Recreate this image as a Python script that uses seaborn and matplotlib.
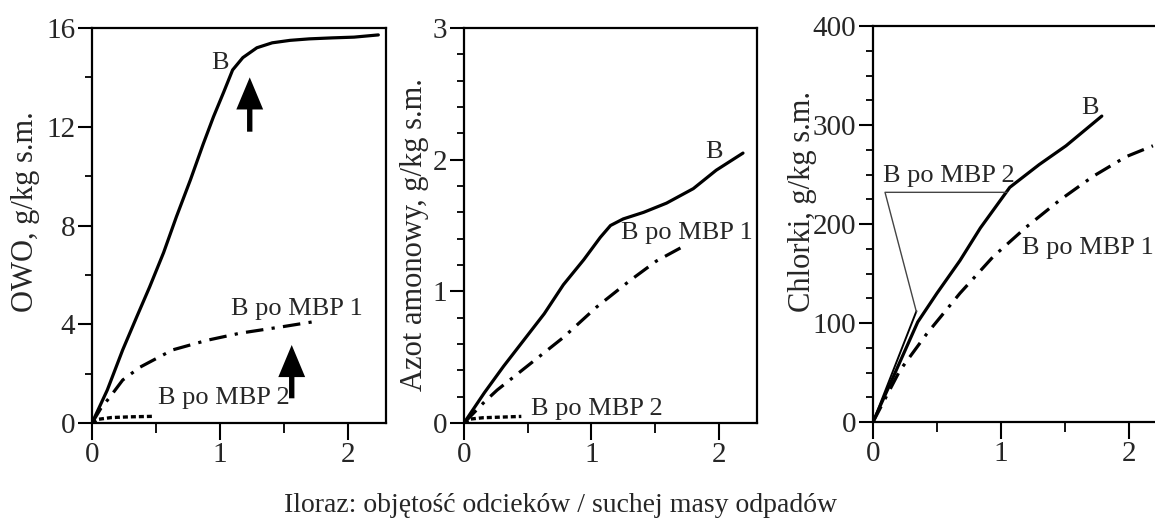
import numpy as np
import pandas as pd
import matplotlib
matplotlib.use("Agg")
import matplotlib.pyplot as plt
from matplotlib.ticker import MultipleLocator, FixedLocator, FixedFormatter
import seaborn as sns

# ---------------- data ----------------
# Panel 1: OWO
owo_b_x = [0, 0.12, 0.24, 0.35, 0.45, 0.56, 0.66, 0.77, 0.87, 0.95, 1.03, 1.1, 1.18, 1.29, 1.41, 1.55, 1.7, 1.88, 2.05, 2.24]
owo_b_y = [0, 1.34, 2.96, 4.3, 5.5, 6.9, 8.35, 9.85, 11.3, 12.4, 13.4, 14.3, 14.8, 15.2, 15.4, 15.5, 15.56, 15.6, 15.63, 15.72]
owo_m1_x = [0, 0.07, 0.14, 0.24, 0.375, 0.63, 0.9, 1.16, 1.49, 1.73]
owo_m1_y = [0, 0.6, 1.05, 1.74, 2.26, 2.96, 3.35, 3.64, 3.9, 4.1]
owo_m2_x = [0, 0.05, 0.15, 0.3, 0.48]
owo_m2_y = [0, 0.15, 0.22, 0.25, 0.27]

# Panel 2: Azot amonowy
az_b_x = [0, 0.16, 0.31, 0.47, 0.63, 0.78, 0.94, 1.07, 1.15, 1.25, 1.41, 1.59, 1.8, 1.98, 2.19]
az_b_y = [0, 0.23, 0.43, 0.63, 0.83, 1.05, 1.24, 1.41, 1.5, 1.55, 1.6, 1.67, 1.78, 1.92, 2.05]
az_m1_x = [0, 0.16, 0.26, 0.52, 0.78, 1.04, 1.3, 1.51, 1.7]
az_m1_y = [0, 0.16, 0.25, 0.45, 0.65, 0.88, 1.08, 1.23, 1.33]
az_m2_x = [0, 0.05, 0.15, 0.45]
az_m2_y = [0, 0.03, 0.04, 0.05]

# Panel 3: Chlorki
cl_b_x = [0, 0.16, 0.35, 0.5, 0.68, 0.84, 1.07, 1.3, 1.51, 1.79]
cl_b_y = [0, 46, 101, 130, 163, 196, 237, 260, 279, 309]
cl_m1_x = [0, 0.21, 0.42, 0.68, 0.94, 1.2, 1.46, 1.72, 1.98, 2.19]
cl_m1_y = [0, 52, 89, 130, 167, 197, 224, 248, 268, 279]
cl_m2_x = [0, 0.34]
cl_m2_y = [0, 112]

# tick labels
owo_yticks = [0, 4, 8, 12, 16]
az_yticks = [0, 1, 2, 3]
cl_yticks = [0, 100, 200, 300, 400]
x_ticks = [0, 1, 2]

ylabels = ["OWO, g/kg s.m.", "Azot amonowy, g/kg s.m.", "Chlorki, g/kg s.m."]
xlabel = "Iloraz: objętość odcieków / suchej masy odpadów"

# annotations
owo_labels = [("B", 1.0, 14.6), ("B po MBP 1", 1.6, 4.6), ("B po MBP 2", 1.03, 1.0)]
az_labels = [("B", 1.96, 2.06), ("B po MBP 1", 1.75, 1.44), ("B po MBP 2", 1.04, 0.11)]
cl_labels = [("B", 1.70, 317), ("B po MBP 2", 0.59, 248), ("B po MBP 1", 1.68, 176)]
owo_arrows = [(1.234, 11.8, 14.0), (1.5625, 1.0, 3.16)]
cl_leader_x = [1.05, 0.094, 0.34]
cl_leader_y = [232, 232, 111]

# ---------------- style ----------------
sns.set_style("ticks")
plt.rcParams['font.family'] = ['Liberation Serif', 'DejaVu Serif']

W, H = 1155, 526
fig = plt.figure(figsize=(W / 100, H / 100), dpi=100)
fig.patch.set_facecolor("white")

def px_ax(left, right, top, bottom):
    return fig.add_axes([left / W, 1 - bottom / H, (right - left) / W, (bottom - top) / H])

ax1 = px_ax(92, 386, 28, 423)
ax2 = px_ax(464, 757, 28, 423)
ax3 = px_ax(873, 1167, 26, 422)

TICK_FS = 21
LBL_FS = 19
YL_FS = 22

solid = dict(color="black", linewidth=2.3, linestyle="-", solid_joinstyle="round", solid_capstyle="round")
dashdot = dict(color="black", linewidth=2.3, linestyle=(0, (5.5, 2.6, 1.0, 2.6)))
dashed = dict(color="black", linewidth=2.4, linestyle=(0, (1.5, 0.9)))

def line(ax, x, y, style):
    df = pd.DataFrame({"x": x, "y": y})
    sns.lineplot(data=df, x="x", y="y", ax=ax, sort=False, estimator=None, **style)

def setup(ax, ylim, yticks, yminor, ylabel, lab_xy):
    ax.set_xlim(0, 2.3)
    ax.set_ylim(*ylim)
    ax.xaxis.set_major_locator(FixedLocator(x_ticks))
    ax.xaxis.set_major_formatter(FixedFormatter([str(t) for t in x_ticks]))
    ax.xaxis.set_minor_locator(MultipleLocator(0.5))
    ax.yaxis.set_major_locator(FixedLocator(yticks))
    ax.yaxis.set_major_formatter(FixedFormatter([str(t) for t in yticks]))
    ax.yaxis.set_minor_locator(MultipleLocator(yminor))
    ax.tick_params(axis="x", which="major", direction="out", length=12.5, width=1.5, labelsize=TICK_FS, pad=1, color="black")
    ax.tick_params(axis="x", which="minor", direction="out", length=7, width=1.3, color="black")
    ax.tick_params(axis="y", which="major", direction="out", length=10, width=1.5, labelsize=TICK_FS, pad=2, color="black")
    ax.tick_params(axis="y", which="minor", direction="out", length=5, width=1.3, color="black")
    for s in ax.spines.values():
        s.set_visible(True)
        s.set_linewidth(1.6)
        s.set_color("black")
    ax.set_xlabel("")
    ax.set_ylabel(ylabel, fontsize=YL_FS)
    ax.yaxis.set_label_coords(*lab_xy)
    ax.set_facecolor("white")
    ax.grid(False)

# Panel 1
line(ax1, owo_b_x, owo_b_y, solid)
line(ax1, owo_m1_x, owo_m1_y, dashdot)
line(ax1, owo_m2_x, owo_m2_y, dashed)
setup(ax1, (0, 16), owo_yticks, 2, ylabels[0], (-0.177, 0.534))
for t, x, y in owo_labels:
    ax1.text(x, y, t, fontsize=LBL_FS, ha="center", va="center")
for x, y0, y1 in owo_arrows:
    ax1.arrow(x, y0, 0, y1 - y0, width=0.042, head_width=0.21, head_length=1.3,
              length_includes_head=True, color="black", linewidth=0)

# Panel 2
line(ax2, az_b_x, az_b_y, solid)
line(ax2, az_m1_x, az_m1_y, dashdot)
line(ax2, az_m2_x, az_m2_y, dashed)
setup(ax2, (0, 3), az_yticks, 0.2, ylabels[1], (-0.12, 0.478))
for t, x, y in az_labels:
    ax2.text(x, y, t, fontsize=LBL_FS, ha="center", va="center")

# Panel 3
line(ax3, cl_b_x, cl_b_y, solid)
line(ax3, cl_m1_x, cl_m1_y, dashdot)
line(ax3, cl_m2_x, cl_m2_y, dict(color="black", linewidth=1.4, linestyle="-"))
ax3.plot(cl_leader_x, cl_leader_y, color="#444444", linewidth=1.0)
setup(ax3, (0, 400), cl_yticks, 25, ylabels[2], (-0.19, 0.556))
for t, x, y in cl_labels:
    ax3.text(x, y, t, fontsize=LBL_FS, ha="center", va="center")

fig.text(561 / W, 1 - 505 / H, xlabel, fontsize=20, ha="center", va="center")

fig.savefig("out.png", dpi=100, facecolor="white")
